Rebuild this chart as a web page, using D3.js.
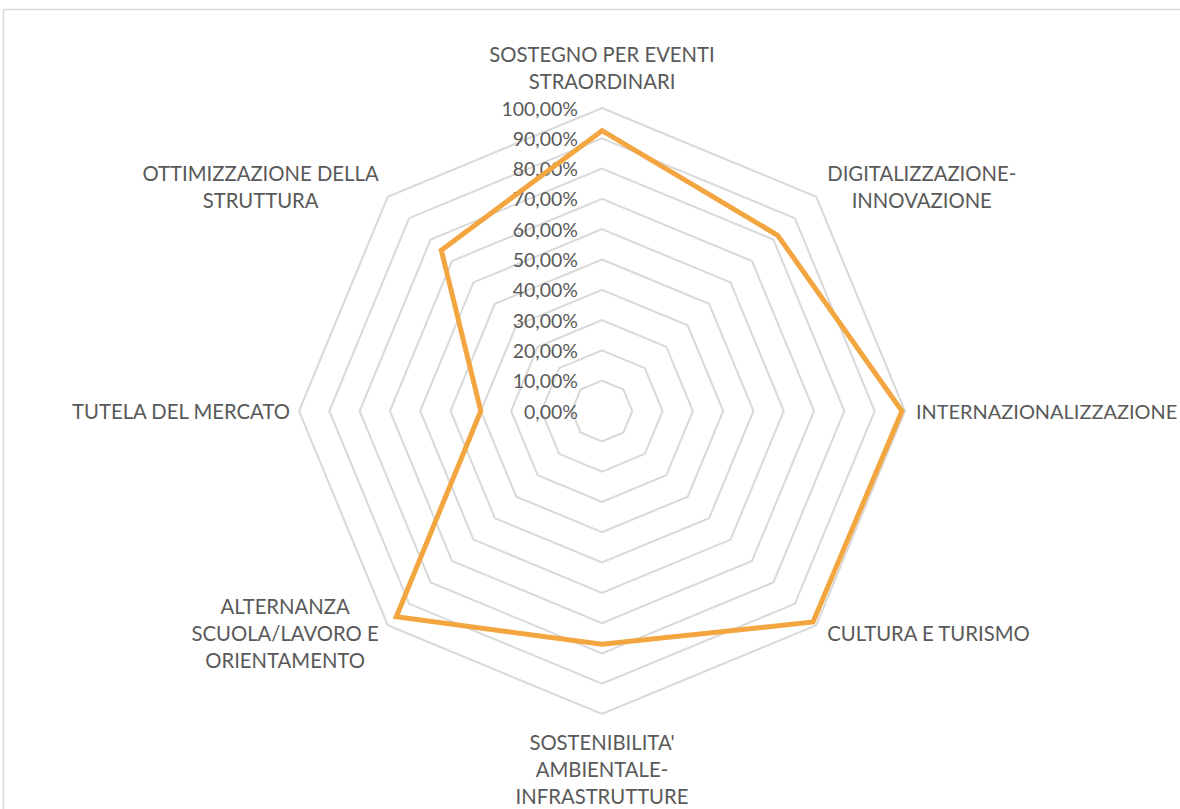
<!DOCTYPE html>
<html>
<head>
<meta charset="utf-8">
<script src="https://cdn.jsdelivr.net/npm/d3@7"></script>
<style>
  html, body { margin: 0; padding: 0; background: #fff; overflow: hidden; }
  svg { display: block; }
  text { font-family: Lato, "Open Sans", sans-serif; fill: #595959; }
</style>
</head>
<body>
<div id="chart"></div>
<script>
// Categories (clockwise from the top), each one split in lines as in the chart
const categories = [
  ["SOSTEGNO PER EVENTI", "STRAORDINARI"],
  ["DIGITALIZZAZIONE-", "INNOVAZIONE"],
  ["INTERNAZIONALIZZAZIONE"],
  ["CULTURA E TURISMO"],
  ["SOSTENIBILITA'", "AMBIENTALE-", "INFRASTRUTTURE"],
  ["ALTERNANZA", "SCUOLA/LAVORO E", "ORIENTAMENTO"],
  ["TUTELA DEL MERCATO"],
  ["OTTIMIZZAZIONE DELLA", "STRUTTURA"]
];

// Series values (share, 0..1)
const values = [0.925, 0.82, 0.99, 0.985, 0.77, 0.96, 0.40, 0.75];

// Radial axis ticks
const tickValues = [0, 0.1, 0.2, 0.3, 0.4, 0.5, 0.6, 0.7, 0.8, 0.9, 1];

// Size
const width = 1180;
const height = 809;
const cx = 602, cy = 411, radius = 303;

const itLocale = d3.formatLocale({ decimal: ",", thousands: ".", grouping: [3], currency: ["", " €"] });
const formatPct = itLocale.format(".2%");

const svg = d3.select("#chart")
  .append("svg")
  .attr("width", width)
  .attr("height", height);

// Chart area border
svg.append("rect")
  .attr("x", 3.5)
  .attr("y", 9.5)
  .attr("width", 1300)
  .attr("height", 1000)
  .attr("fill", "none")
  .attr("stroke", "#d9d9d9")
  .attr("stroke-width", 1.5);

const g = svg.append("g")
  .attr("transform", `translate(${cx},${cy})`);

// Scales
const rScale = d3.scaleLinear().domain([0, 1]).range([0, radius]);
const angle = d3.scalePoint()
  .domain(d3.range(categories.length))
  .range([0, 2 * Math.PI * (categories.length - 1) / categories.length]);

const radial = d3.lineRadial()
  .angle((d, i) => angle(i))
  .radius(d => rScale(d))
  .curve(d3.curveLinearClosed);

// Grid rings
g.selectAll(".ring")
  .data(tickValues.filter(t => t > 0))
  .enter()
  .append("path")
  .attr("class", "ring")
  .attr("d", t => radial(categories.map(() => t)))
  .attr("fill", "none")
  .attr("stroke", "#d9d9d9")
  .attr("stroke-width", 2);

// Tick labels
g.selectAll(".tick-label")
  .data(tickValues)
  .enter()
  .append("text")
  .attr("class", "tick-label")
  .attr("x", -24)
  .attr("y", t => -rScale(t))
  .attr("text-anchor", "end")
  .attr("dominant-baseline", "central")
  .attr("font-size", 19.5)
  .text(t => formatPct(t));

// Series line
g.append("path")
  .attr("d", radial(values))
  .attr("fill", "none")
  .attr("stroke", "#F3A53F")
  .attr("stroke-width", 5)
  .attr("stroke-linejoin", "miter");

// Category labels
const lineH = 27;
const capHalf = 7;
const fontSize = 20.3;
categories.forEach((lines, i) => {
  const a = angle(i);
  const sx = Math.sin(a), cy0 = Math.cos(a);
  const vx = rScale(1) * sx;
  const vy = -rScale(1) * cy0;

  const lab = g.append("g");
  const n = lines.length;
  const texts = lab.selectAll("text")
    .data(lines)
    .enter()
    .append("text")
    .attr("x", 0)
    .attr("y", (d, j) => (j - (n - 1) / 2) * lineH)
    .attr("text-anchor", "middle")
    .attr("dominant-baseline", "central")
    .attr("font-size", fontSize)
    .text(d => d);

  let bw = lab.node().getBBox().width;
  const halfH = (n - 1) / 2 * lineH + capHalf;
  const padR = 11, padL = 9;

  // shrink a label that would run past the right edge
  if (sx > 0.1) {
    const room = width - 3 - (cx + vx + padR);
    if (bw > room) {
      texts.attr("font-size", fontSize * room / bw);
      bw = lab.node().getBBox().width;
    }
  }

  let x, y;
  if (sx > 0.1) x = vx + padR + bw / 2;
  else if (sx < -0.1) x = vx - padL - bw / 2;
  else x = vx;

  if (cy0 > 0.9) y = vy - 20 - halfH;
  else if (cy0 > 0.1) y = vy - 10;
  else if (cy0 > -0.1) y = vy;
  else if (cy0 > -0.9) y = vy + 8;
  else y = vy + 21 + halfH;

  lab.attr("transform", `translate(${x},${y})`);
});
</script>
</body>
</html>
